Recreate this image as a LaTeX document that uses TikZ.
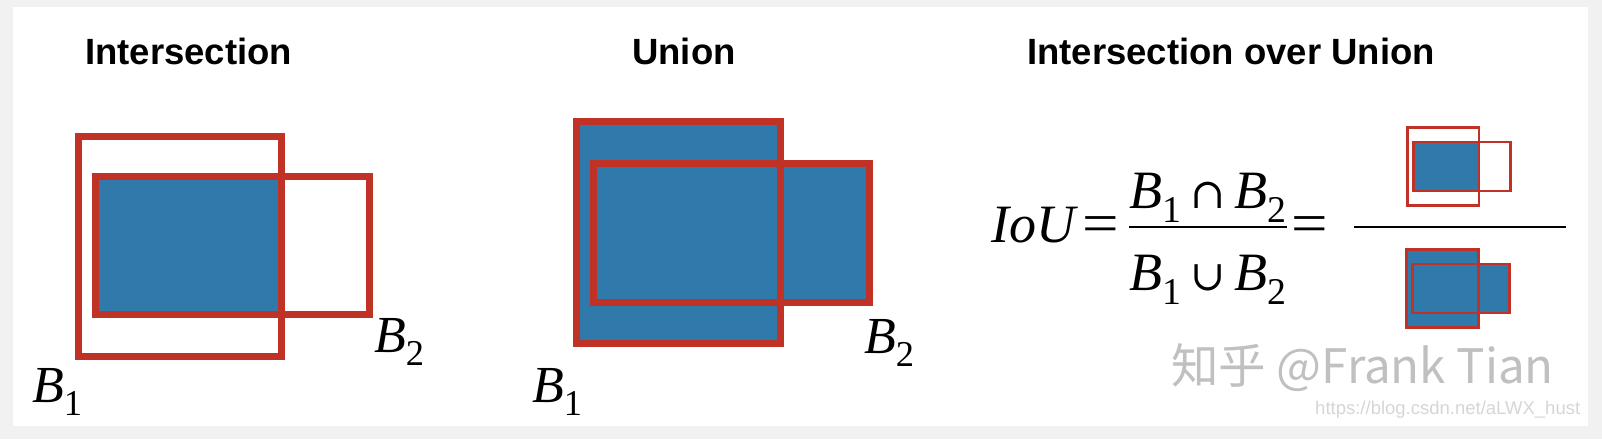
\documentclass[tikz,border=0pt]{standalone}
\usepackage{fontspec}
\setmainfont{Liberation Serif}
\setsansfont{Liberation Sans}
\newfontfamily\cjkfont{Noto Sans CJK SC}
\newfontfamily\opfont{DejaVu Serif}
\usetikzlibrary{positioning, backgrounds}

\definecolor{boxred}{RGB}{192,49,38}
\definecolor{boxblue}{RGB}{47,122,170}
\definecolor{framegray}{RGB}{241,241,241}
\definecolor{markgray}{RGB}{192,192,192}
\definecolor{urlgray}{RGB}{214,214,214}

% italic B with a lowered index
\newcommand{\Bsub}[1]{\textit{B}\raisebox{-0.26em}{\scalebox{0.7}{#1}}}
\newcommand{\setop}[1]{{\opfont\fontsize{42}{42}\selectfont #1}}
\newcommand{\eqsign}{\scalebox{1.2}[1.05]{=}}

\tikzset{
  bigbox/.style={draw=boxred, line width=7pt, rectangle, inner sep=0pt, outer sep=0pt, anchor=north west},
  smallbox/.style={bigbox, line width=2.6pt},
  title/.style={font=\fontsize{36.5}{40}\sffamily\bfseries, anchor=base west, inner sep=0pt},
  lbl/.style={font=\fontsize{52}{58}\selectfont, anchor=base west, inner sep=0pt},
  eqn/.style={font=\fontsize{54}{60}\selectfont, inner sep=0pt},
  bar/.style={line width=2.6pt}
}

\begin{document}
\begin{tikzpicture}[x=1pt, y=-1pt]
  \useasboundingbox (0,0) rectangle (1602,439);
  \begin{scope}[on background layer]
    \fill[framegray] (0,0) rectangle (1602,439);
    \fill[white] (13,7) rectangle (1588,426);
  \end{scope}

  % titles
  \node[title] (tint) at (85,64) {Intersection};
  \node[title] (tuni) at (632,64) {Union};
  \node[title] (tiou) at (1027,64) {Intersection over Union};

  % intersection
  \node[bigbox, minimum width=203pt, minimum height=220pt] (ib1) at (78.5,136.5) {};
  \node[bigbox, minimum width=274pt, minimum height=138pt] (ib2) at (95.5,176.5) {};
  \node[lbl] (ilb1) at (32,402) {\Bsub{1}};
  \node[lbl] (ilb2) at (374,352) {\Bsub{2}};

  % union
  \node[bigbox, minimum width=204pt, minimum height=222pt] (ub1) at (576.5,121.5) {};
  \node[bigbox, minimum width=276pt, minimum height=139pt] (ub2) at (593.5,163.5) {};
  \node[lbl] (ulb1) at (532,402) {\Bsub{1}};
  \node[lbl] (ulb2) at (864,353) {\Bsub{2}};

  % formula
  \node[eqn, anchor=base west] (iou) at (991,242) {\textit{IoU}};
  \node[eqn, anchor=base] (eq1) at (1101,242) {\eqsign};
  \node[eqn, anchor=base] (num) at (1208,208) {\Bsub{1}\,\setop{∩}\,\Bsub{2}};
  \node[eqn, anchor=base] (den) at (1208,290) {\Bsub{1}\,\setop{∪}\,\Bsub{2}};
  \coordinate (fl) at (1129,227);
  \coordinate (fr) at (1287,227);
  \draw[bar] (fl) -- (fr);
  \node[eqn, anchor=base] (eq2) at (1310,242) {\eqsign};
  \coordinate (bl) at (1354,227);
  \coordinate (br) at (1566,227);
  \draw[bar] (bl) -- (br);

  % small boxes
  \node[smallbox, minimum width=71.8pt, minimum height=78pt] (sa1) at (1407.3,127.3) {};
  \node[smallbox, minimum width=97pt, minimum height=49pt] (sa2) at (1413.3,141.8) {};
  \node[smallbox, minimum width=71.8pt, minimum height=78pt] (sb1) at (1406.5,249.5) {};
  \node[smallbox, minimum width=97pt, minimum height=49pt] (sb2) at (1412.5,264) {};

  % blue areas
  \begin{scope}[on background layer]
    \fill[boxblue] (ib2.north west) rectangle (ib1.east |- ib2.south);
    \fill[boxblue] (ub1.north west) rectangle (ub1.south east)
                   (ub2.north west) rectangle (ub2.south east);
    \fill[boxblue] (sa2.north west) rectangle (sa1.east |- sa2.south);
    \fill[boxblue] (sb1.north west) rectangle (sb1.south east)
                   (sb2.north west) rectangle (sb2.south east);
  \end{scope}

  % watermark
  \node[font=\cjkfont\fontsize{47.5}{50}\selectfont, text=markgray, anchor=base west, inner sep=0pt] (mark) at (1171,383) {知乎 @Frank Tian};
  \node[font=\sffamily\fontsize{18.5}{20}\selectfont, text=urlgray, anchor=base west, inner sep=0pt] (url) at (1315,414) {https://blog.csdn.net/aLWX\_hust};
\end{tikzpicture}
\end{document}
